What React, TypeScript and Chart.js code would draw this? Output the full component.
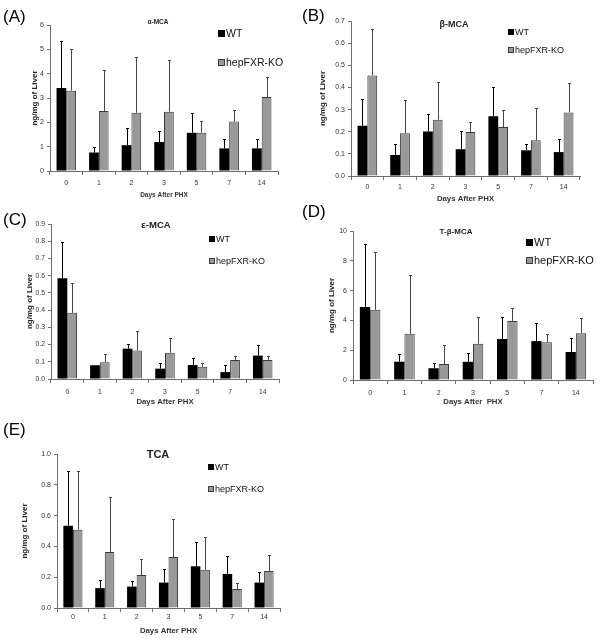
import React, { useEffect, useRef } from "react";
import { Chart, registerables } from "chart.js";
Chart.register(...registerables);

const FONT = "'Liberation Sans', Arial, Helvetica, sans-serif";

// ---------- DATA ----------
const days = ["0", "1", "2", "3", "5", "7", "14"];
const seriesNames = ["WT", "hepFXR-KO"];
const xAxisTitle = "Days After PHX";
const yAxisTitle = "ng/mg of Liver";

// (A) alpha-MCA
const aMcaWT = [3.41, 0.76, 1.06, 1.19, 1.57, 0.93, 0.93];
const aMcaWTErr = [1.94, 0.22, 0.69, 0.45, 0.83, 0.37, 0.37];
const aMcaKO = [3.30, 2.47, 2.39, 2.44, 1.57, 2.03, 3.04];
const aMcaKOErr = [1.73, 1.68, 2.30, 2.14, 0.49, 0.48, 0.81];

// (B) beta-MCA
const bMcaWT = [0.227, 0.095, 0.201, 0.121, 0.270, 0.116, 0.108];
const bMcaWTErr = [0.122, 0.048, 0.077, 0.084, 0.133, 0.027, 0.061];
const bMcaKO = [0.454, 0.193, 0.254, 0.199, 0.221, 0.162, 0.287];
const bMcaKOErr = [0.208, 0.152, 0.169, 0.043, 0.079, 0.147, 0.135];

// (C) epsilon-MCA
const eMcaWT = [0.585, 0.080, 0.176, 0.060, 0.081, 0.040, 0.136];
const eMcaWTErr = [0.208, 0.0, 0.029, 0.034, 0.041, 0.043, 0.063];
const eMcaKO = [0.384, 0.097, 0.165, 0.153, 0.071, 0.111, 0.111];
const eMcaKOErr = [0.172, 0.047, 0.116, 0.084, 0.022, 0.023, 0.023];

// (D) T-beta-MCA
const tbMcaWT = [4.90, 1.23, 0.79, 1.22, 2.75, 2.61, 1.88];
const tbMcaWTErr = [4.20, 0.50, 0.35, 0.59, 1.49, 1.22, 0.95];
const tbMcaKO = [4.71, 3.10, 1.07, 2.43, 3.96, 2.54, 3.13];
const tbMcaKOErr = [3.87, 3.97, 1.26, 1.79, 0.86, 0.54, 1.04];

// (E) TCA
const tcaWT = [0.534, 0.129, 0.139, 0.165, 0.271, 0.221, 0.165];
const tcaWTErr = [0.354, 0.051, 0.037, 0.088, 0.157, 0.117, 0.072];
const tcaKO = [0.508, 0.364, 0.214, 0.331, 0.248, 0.123, 0.240];
const tcaKOErr = [0.382, 0.357, 0.106, 0.244, 0.214, 0.038, 0.104];

// ---------- PANEL LAYOUT ----------
type Panel = {
  tag: string;
  title: string;
  titleSize: number;
  titlePos: [number, number];
  tagPos: [number, number];
  wt: number[];
  wtErr: number[];
  ko: number[];
  koErr: number[];
  yMax: number;
  yStep: number;
  decimals: number;
  box: { x: number; y: number; w: number; h: number };
  area: { l: number; r: number; t: number; b: number };
  xTickY: number;
  xTitleY: number;
  yTitleX: number;
  tickSize: number;
  axisTitleSize: number;
  xTitle: string;
  legend: { left: number; rows: [number, number]; size: number };
};

const panels: Panel[] = [
  {
    tag: "(A)", title: "α-MCA", titleSize: 6.5, titlePos: [158, 22], tagPos: [3, 17],
    wt: aMcaWT, wtErr: aMcaWTErr, ko: aMcaKO, koErr: aMcaKOErr,
    yMax: 6, yStep: 1, decimals: 0,
    box: { x: 0, y: 0, w: 300, h: 205 },
    area: { l: 50, r: 278, t: 25, b: 171 },
    xTickY: 183, xTitleY: 195, yTitleX: 35, tickSize: 7, axisTitleSize: 6.5,
    xTitle: xAxisTitle,
    legend: { left: 218, rows: [33, 62], size: 10.5 },
  },
  {
    tag: "(B)", title: "β-MCA", titleSize: 9, titlePos: [454, 24], tagPos: [302, 16],
    wt: bMcaWT, wtErr: bMcaWTErr, ko: bMcaKO, koErr: bMcaKOErr,
    yMax: 0.7, yStep: 0.1, decimals: 1,
    box: { x: 300, y: 0, w: 303, h: 205 },
    area: { l: 351, r: 580, t: 21, b: 176 },
    xTickY: 187, xTitleY: 199, yTitleX: 323, tickSize: 7, axisTitleSize: 7.8,
    xTitle: xAxisTitle,
    legend: { left: 508, rows: [32, 50], size: 9 },
  },
  {
    tag: "(C)", title: "ε-MCA", titleSize: 9.5, titlePos: [156, 225], tagPos: [3, 220],
    wt: eMcaWT, wtErr: eMcaWTErr, ko: eMcaKO, koErr: eMcaKOErr,
    yMax: 0.9, yStep: 0.1, decimals: 1,
    box: { x: 0, y: 205, w: 300, h: 205 },
    area: { l: 51, r: 279, t: 224, b: 379 },
    xTickY: 392, xTitleY: 402, yTitleX: 30, tickSize: 6.8, axisTitleSize: 7.8,
    xTitle: xAxisTitle,
    legend: { left: 209, rows: [239, 261], size: 9 },
  },
  {
    tag: "(D)", title: "T-β-MCA", titleSize: 8, titlePos: [456, 232], tagPos: [302, 212],
    wt: tbMcaWT, wtErr: tbMcaWTErr, ko: tbMcaKO, koErr: tbMcaKOErr,
    yMax: 10, yStep: 2, decimals: 0,
    box: { x: 300, y: 205, w: 303, h: 205 },
    area: { l: 353, r: 593, t: 231, b: 380 },
    xTickY: 393, xTitleY: 402, yTitleX: 332, tickSize: 7, axisTitleSize: 7.8,
    xTitle: "Days After  PHX",
    legend: { left: 526, rows: [242, 260], size: 11 },
  },
  {
    tag: "(E)", title: "TCA", titleSize: 11, titlePos: [158, 454], tagPos: [3, 430],
    wt: tcaWT, wtErr: tcaWTErr, ko: tcaKO, koErr: tcaKOErr,
    yMax: 1.0, yStep: 0.2, decimals: 1,
    box: { x: 0, y: 410, w: 300, h: 229 },
    area: { l: 57, r: 280, t: 454, b: 608 },
    xTickY: 617, xTitleY: 631, yTitleX: 25, tickSize: 7, axisTitleSize: 7.8,
    xTitle: xAxisTitle,
    legend: { left: 208, rows: [467, 489], size: 9 },
  },
];

const WT_COLOR = "#000000";
const KO_COLOR = "#999999";
const KO_BORDER = "#3a3a3a";
const AXIS_COLOR = "#6e6e6e";
const TEXT_COLOR = "#333333";

const errorBarPlugin = {
  id: "errorBars",
  afterDatasetsDraw(chart: any) {
    const ctx = chart.ctx;
    const yScale = chart.scales.y;
    chart.data.datasets.forEach((ds: any, di: number) => {
      const meta = chart.getDatasetMeta(di);
      meta.data.forEach((bar: any, i: number) => {
        const v = ds.data[i];
        const e = ds.errors ? ds.errors[i] : 0;
        if (!e) return;
        const x = Math.round(bar.x) + 0.5;
        const yTop = Math.round(yScale.getPixelForValue(v + e)) + 0.5;
        ctx.save();
        ctx.strokeStyle = ds.errorColor;
        ctx.lineWidth = 1;
        ctx.beginPath();
        ctx.moveTo(x, bar.y);
        ctx.lineTo(x, yTop);
        ctx.moveTo(x - 1.5, yTop);
        ctx.lineTo(x + 1.5, yTop);
        ctx.stroke();
        ctx.restore();
      });
    });
  },
};

function PanelChart({ p }: { p: Panel }) {
  const ref = useRef<HTMLCanvasElement | null>(null);
  useEffect(() => {
    if (!ref.current) return;
    const { box, area } = p;
    const xTickLen = 4;
    const yTickLen = 3;
    const xTickPad = p.xTickY - 0.55 * p.tickSize - area.b - xTickLen;
    const xTitleLH = p.axisTitleSize * 1.2;
    const xTitlePadBottom = box.y + box.h - p.xTitleY - xTitleLH / 2;
    const yTitleLH = 8 * 1.2;
    const yTitlePadTop = p.yTitleX - box.x - yTitleLH / 2;
    const chart = new Chart(ref.current, {
      type: "bar",
      data: {
        labels: days,
        datasets: [
          {
            label: seriesNames[0],
            data: p.wt,
            errors: p.wtErr,
            errorColor: "#000000",
            backgroundColor: WT_COLOR,
            borderWidth: 0,
            categoryPercentage: 0.6,
            barPercentage: 1.0,
          } as any,
          {
            label: seriesNames[1],
            data: p.ko,
            errors: p.koErr,
            errorColor: "#444444",
            backgroundColor: KO_COLOR,
            borderColor: KO_BORDER,
            borderWidth: 1,
            categoryPercentage: 0.6,
            barPercentage: 1.0,
          } as any,
        ],
      },
      options: {
        responsive: false,
        animation: false,
        devicePixelRatio: 1,
        events: [],
        layout: {
          autoPadding: false,
          padding: { left: 0, bottom: 0, top: area.t - box.y, right: box.x + box.w - area.r },
        },
        plugins: {
          legend: { display: false },
          title: { display: false },
          tooltip: { enabled: false },
        },
        scales: {
          x: {
            type: "category",
            offset: true,
            grid: {
              display: true,
              offset: true,
              drawOnChartArea: false,
              drawTicks: true,
              tickLength: xTickLen,
              color: AXIS_COLOR,
            },
            border: { display: true, color: AXIS_COLOR, width: 1 },
            ticks: {
              color: TEXT_COLOR,
              font: { family: FONT, size: p.tickSize },
              padding: xTickPad,
              maxRotation: 0,
              autoSkip: false,
            },
            title: {
              display: true,
              text: p.xTitle,
              color: TEXT_COLOR,
              font: { family: FONT, size: p.axisTitleSize, weight: "bold", lineHeight: 1.2 },
              padding: { top: 0, bottom: xTitlePadBottom },
            },
            afterFit: (scale: any) => {
              scale.height = box.y + box.h - area.b;
            },
          },
          y: {
            min: 0,
            max: p.yMax,
            grid: {
              display: true,
              drawOnChartArea: false,
              drawTicks: true,
              tickLength: yTickLen,
              color: AXIS_COLOR,
            },
            border: { display: true, color: AXIS_COLOR, width: 1 },
            ticks: {
              stepSize: p.yStep,
              color: TEXT_COLOR,
              font: { family: FONT, size: p.tickSize },
              padding: 3,
              callback: (v: any) => Number(v).toFixed(p.decimals),
            },
            title: {
              display: true,
              text: yAxisTitle,
              color: "#222222",
              font: { family: FONT, size: 8, weight: "bold", lineHeight: 1.2 },
              padding: { top: yTitlePadTop, bottom: 0 },
            },
            afterFit: (scale: any) => {
              scale.width = area.l - box.x;
            },
          },
        },
      } as any,
      plugins: [errorBarPlugin],
    });
    return () => chart.destroy();
  }, [p]);

  const { box } = p;
  return (
    <canvas
      ref={ref}
      width={box.w}
      height={box.h}
      style={{ position: "absolute", left: box.x, top: box.y, width: box.w, height: box.h, display: "block" }}
    />
  );
}

function Legend({ p }: { p: Panel }) {
  const sq = Math.round(p.legend.size * 0.62);
  const items = [
    { name: seriesNames[0], fill: WT_COLOR, border: WT_COLOR },
    { name: seriesNames[1], fill: KO_COLOR, border: KO_BORDER },
  ];
  return (
    <>
      {items.map((it, i) => (
        <div
          key={it.name}
          style={{
            position: "absolute",
            left: p.legend.left,
            top: p.legend.rows[i] - 8,
            height: 16,
            display: "flex",
            alignItems: "center",
            fontFamily: FONT,
            fontSize: p.legend.size,
            color: "#111",
            whiteSpace: "nowrap",
            lineHeight: "16px",
          }}
        >
          <span
            style={{
              display: "inline-block",
              width: sq,
              height: sq,
              boxSizing: "border-box",
              background: it.fill,
              border: `1px solid ${it.border}`,
              marginRight: 1,
            }}
          />
          <span>{it.name}</span>
        </div>
      ))}
    </>
  );
}

export default function App() {
  return (
    <div
      style={{
        position: "absolute",
        left: 0,
        top: 0,
        width: 603,
        height: 639,
        background: "#ffffff",
        overflow: "hidden",
      }}
    >
      {panels.map((p) => (
        <React.Fragment key={p.tag}>
          <PanelChart p={p} />
          <div
            style={{
              position: "absolute",
              left: p.tagPos[0],
              top: p.tagPos[1] - 10,
              height: 20,
              lineHeight: "20px",
              fontFamily: FONT,
              fontSize: 17,
              color: "#000",
            }}
          >
            {p.tag}
          </div>
          <div
            style={{
              position: "absolute",
              left: p.titlePos[0] - 60,
              width: 120,
              top: p.titlePos[1] - 8,
              height: 16,
              lineHeight: "16px",
              textAlign: "center",
              fontFamily: FONT,
              fontWeight: "bold",
              fontSize: p.titleSize,
              color: "#222",
            }}
          >
            {p.title}
          </div>
          <Legend p={p} />
        </React.Fragment>
      ))}
    </div>
  );
}
